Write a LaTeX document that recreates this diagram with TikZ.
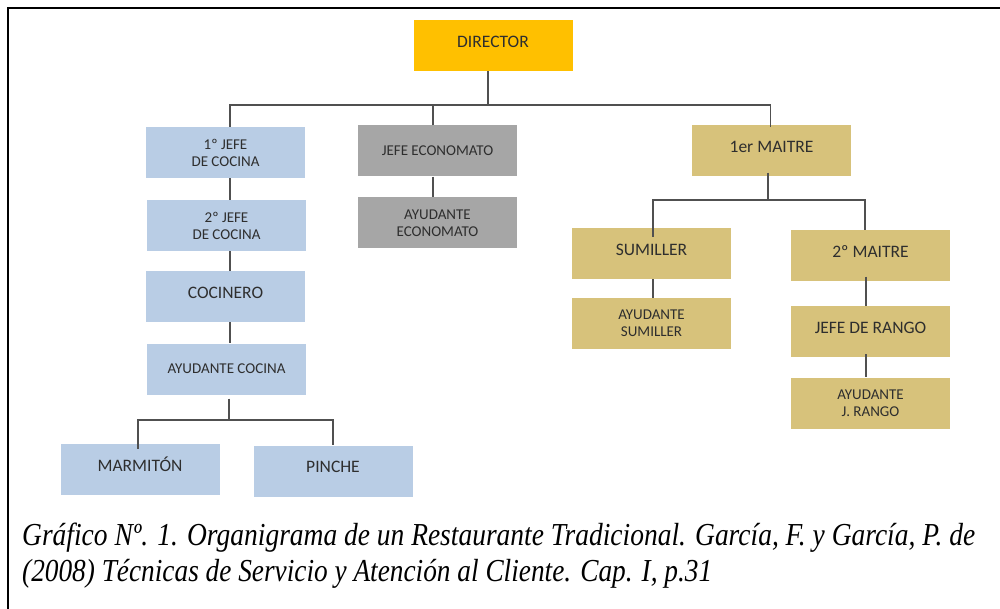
\documentclass[tikz,border=0pt]{standalone}
\usepackage{fontspec}
\setmainfont{Liberation Serif}
\newfontfamily\boxfont{Carlito}
\usetikzlibrary{positioning}
\definecolor{dirfill}{HTML}{FFC000}
\definecolor{kitchen}{HTML}{B9CDE5}
\definecolor{store}{HTML}{A6A6A6}
\definecolor{hall}{HTML}{D7C27B}
\definecolor{boxtext}{HTML}{2E2E2E}
\definecolor{wire}{HTML}{505050}
\tikzset{
  unit/.style={minimum width=159pt, minimum height=51pt, inner sep=0pt,
    align=center, text=boxtext, font=\boxfont\fontsize{17.5}{20}\selectfont,
    text height=11.3pt, text depth=8pt},
  small/.style={font=\boxfont\fontsize{15}{16.5}\selectfont,
    text height=9.7pt, text depth=0pt},
  twoline/.style={font=\boxfont\fontsize{15}{17}\selectfont,
    text height=, text depth=},
  link/.style={draw=wire, line width=1.6pt},
}
\begin{document}
\begin{tikzpicture}[x=1pt,y=-1pt]
\useasboundingbox (0,0) rectangle (1000,609);
% frame
\draw[line width=2pt] (1000,8) -- (8,8) -- (8,609);

% boxes
\node[unit, fill=dirfill] (dir) at (493,45.5) {DIRECTOR};

\node[unit, twoline, fill=kitchen] (jc1) at (225.5,152.5) {1º JEFE\\DE COCINA};
\node[unit, twoline, fill=kitchen] (jc2) at (226.5,225.5) {2º JEFE\\DE COCINA};
\node[unit, fill=kitchen] (coc) at (225.5,296.5) {COCINERO};
\node[unit, small, fill=kitchen] (ayc) at (226.5,369) {AYUDANTE COCINA};
\node[unit, fill=kitchen] (mar) at (140,469.5) {MARMITÓN};
\node[unit, fill=kitchen] (pin) at (333,471) {PINCHE};

\node[unit, small, fill=store] (je) at (437.5,151) {JEFE ECONOMATO};
\node[unit, twoline, fill=store] (aye) at (437.5,223) {AYUDANTE\\ECONOMATO};

\node[unit, fill=hall] (m1) at (771.5,151) {1er MAITRE};
\node[unit, fill=hall] (sum) at (651.5,253.5) {SUMILLER};
\node[unit, twoline, fill=hall] (ays) at (651.5,323.5) {AYUDANTE\\SUMILLER};
\node[unit, fill=hall] (m2) at (870.5,256) {2º MAITRE};
\node[unit, fill=hall] (jr) at (870.5,331.5) {JEFE DE RANGO};
\node[unit, twoline, fill=hall] (ayr) at (870.5,403) {AYUDANTE\\J. RANGO};

% bus levels
\coordinate (topbus) at (0,105);
\coordinate (kbus) at (0,420);
\coordinate (hbus) at (0,200);

% director to the three departments
\draw[link] ([xshift=-5pt]dir.south) -- ([xshift=-5pt]dir.south |- topbus);
\draw[link] ([xshift=4.5pt]jc1.north) -- ([xshift=4.5pt]jc1.north |- topbus)
  -- ([xshift=-1pt]m1.north |- topbus) -- ([xshift=-1pt,yshift=-2pt]m1.north);
\draw[link] ([xshift=-4.5pt]je.north) -- ([xshift=-4.5pt]je.north |- topbus);

% kitchen chain
\draw[link] ([xshift=4.5pt]jc1.south) -- ([xshift=3.5pt]jc2.north);
\draw[link] ([xshift=3.5pt]jc2.south) -- ([xshift=4.5pt]coc.north);
\draw[link] ([xshift=4.5pt]coc.south) -- ([xshift=3.5pt]ayc.north);
\draw[link] ([xshift=2.5pt,yshift=-4pt]ayc.south) -- ([xshift=2.5pt]ayc.south |- kbus);
\draw[link] ([xshift=-2pt,yshift=-5pt]mar.north) -- ([xshift=-2pt]mar.north |- kbus)
  -- (pin.north |- kbus) -- (pin.north);

% store chain
\draw[link] ([xshift=-4.5pt]je.south) -- ([xshift=-4.5pt]aye.north);

% dining room chain
\draw[link] ([xshift=-3.5pt,yshift=4pt]m1.south) -- ([xshift=-3.5pt]m1.south |- hbus);
\draw[link] ([xshift=1.5pt,yshift=-9pt]sum.north) -- ([xshift=1.5pt]sum.north |- hbus)
  -- ([xshift=-5.5pt]m2.north |- hbus) -- ([xshift=-5.5pt]m2.north);
\draw[link] ([xshift=1.5pt]sum.south) -- ([xshift=1.5pt]ays.north);
\draw[link] ([xshift=-4.5pt,yshift=5pt]m2.south) -- ([xshift=-4.5pt]jr.north);
\draw[link] ([xshift=-4.5pt,yshift=3pt]jr.south) -- ([xshift=-4.5pt]ayr.north);

% caption
\node[anchor=base west, inner sep=0pt] (cap1) at (22,545)
  {\resizebox{953pt}{\height}{\fontsize{32}{36}\selectfont\itshape Gráfico Nº. 1. Organigrama de un Restaurante Tradicional. García, F. y García, P. de}};
\node[anchor=base west, inner sep=0pt] (cap2) at (22,581)
  {\resizebox{690pt}{\height}{\fontsize{32}{36}\selectfont\itshape (2008) Técnicas de Servicio y Atención al Cliente. Cap. I, p.31}};
\end{tikzpicture}
\end{document}
